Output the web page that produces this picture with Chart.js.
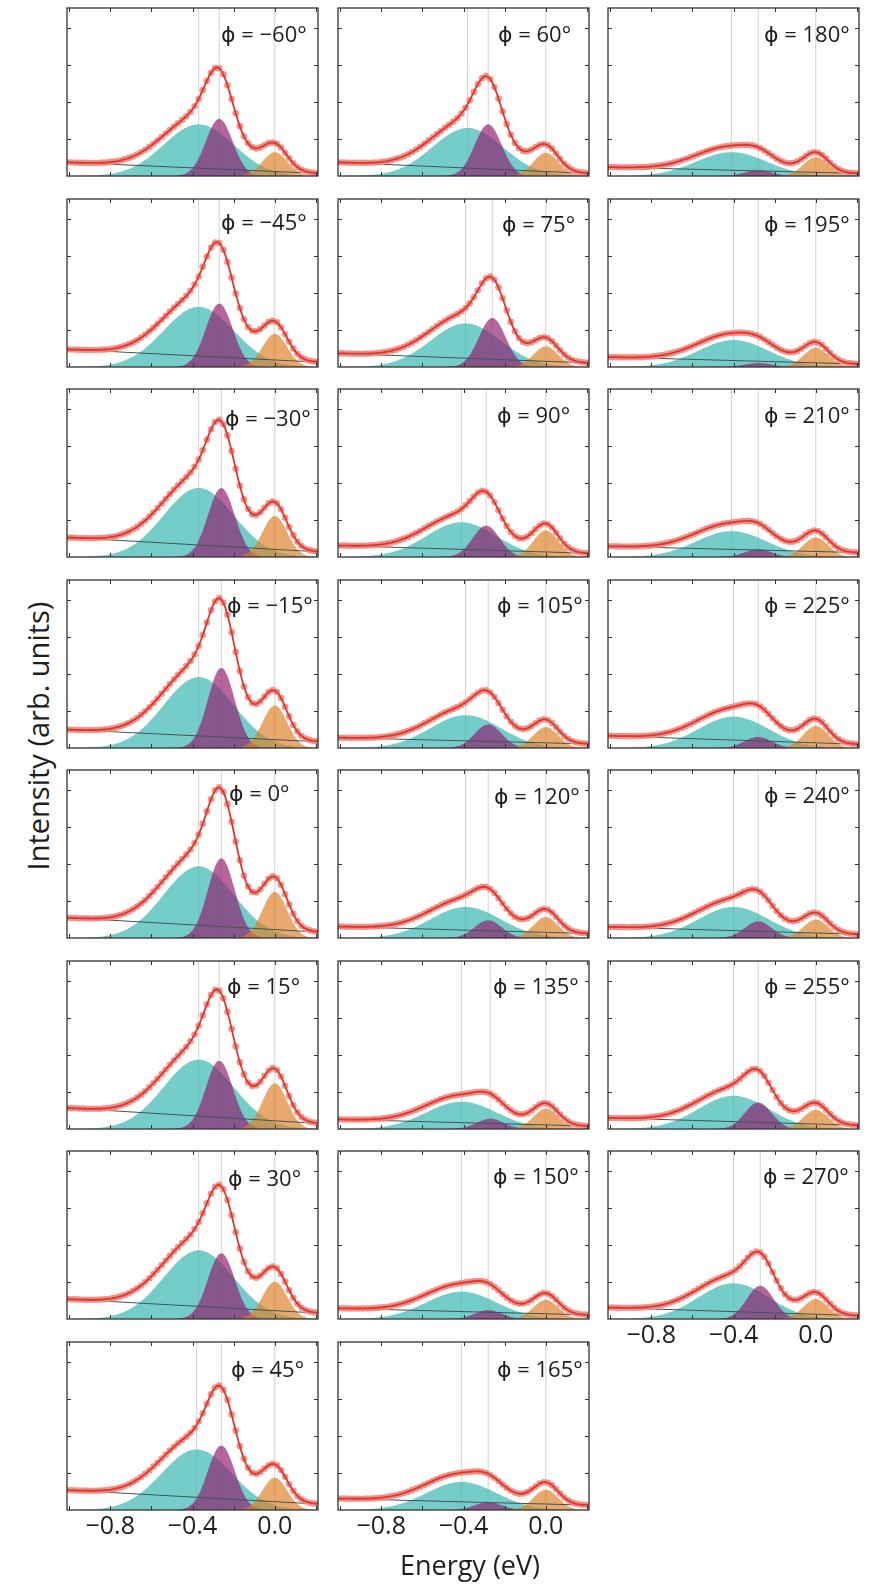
<!DOCTYPE html>
<html>
<head>
<meta charset="utf-8">
<script src="https://cdn.jsdelivr.net/npm/chart.js@4.4.0/dist/chart.umd.min.js"></script>
<style>
html,body{margin:0;padding:0;background:#fff;}
#page{position:relative;width:873px;height:1588px;overflow:hidden;background:#fff;font-family:'Open Sans','DejaVu Sans',sans-serif;color:#1e1e1e;}
.panel{position:absolute;}
.phi{position:absolute;font-size:22px;line-height:22px;white-space:nowrap;font-family:'Open Sans','DejaVu Sans',sans-serif;}
#ylab{position:absolute;left:37px;top:736px;font-size:29px;line-height:29px;white-space:nowrap;transform:translate(-50%,-50%) rotate(-90deg);}
#xlab{position:absolute;left:470px;top:1564px;font-size:27px;line-height:27px;white-space:nowrap;transform:translate(-50%,-50%);}
</style>
</head>
<body>
<div id="page"></div>
<script>
// ---------------- data ----------------
const phiLabels   = ['−60','−45','−30','−15','0','15','30','45',
                     '60','75','90','105','120','135','150','165',
                     '180','195','210','225','240','255','270'];
// component amplitudes (arb. units)
const cyanAmp     = [1.40,1.63,1.87,1.92,1.94,1.88,1.86,1.64,
                     1.30,1.18,0.94,0.89,0.84,0.74,0.74,0.76,
                     0.645,0.73,0.70,0.85,0.84,0.90,0.97];
const purpleAmp   = [1.55,1.72,1.87,2.17,2.16,1.85,1.78,1.75,
                     1.40,1.33,0.85,0.64,0.48,0.28,0.24,0.21,
                     0.16,0.11,0.21,0.30,0.45,0.72,0.90];
const orangeAmp   = [0.645,0.90,1.11,1.15,1.25,1.24,1.01,0.88,
                     0.63,0.56,0.72,0.57,0.57,0.55,0.52,0.55,
                     0.51,0.52,0.53,0.60,0.50,0.52,0.54];
// linear background at left / right end of the energy window
const bgLeft      = [0.37,0.48,0.53,0.50,0.55,0.57,0.54,0.54,
                     0.37,0.37,0.31,0.28,0.31,0.26,0.29,0.31,
                     0.24,0.27,0.29,0.33,0.30,0.30,0.31];
const bgRight     = [0.07,0.13,0.14,0.17,0.16,0.15,0.16,0.16,
                     0.07,0.11,0.10,0.11,0.12,0.08,0.11,0.13,
                     0.07,0.08,0.12,0.10,0.10,0.10,0.09];
// component centres (eV)
const cyanCenter  = [-0.37,-0.37,-0.37,-0.37,-0.37,-0.37,-0.37,-0.38,
                     -0.38,-0.39,-0.41,-0.39,-0.39,-0.41,-0.41,-0.41,
                     -0.41,-0.40,-0.41,-0.40,-0.40,-0.40,-0.40];
const purpleCenter= [-0.27,-0.27,-0.26,-0.26,-0.26,-0.27,-0.26,-0.26,
                     -0.28,-0.26,-0.29,-0.28,-0.28,-0.27,-0.28,-0.28,
                     -0.28,-0.28,-0.28,-0.28,-0.28,-0.28,-0.27];
const orangeCenter= 0.0;
// normalised line shapes, sampled every 0.01 eV away from the centre
const cyanShape   = [1,0.9983,0.9931,0.9846,0.9727,0.9577,0.9396,0.9187,0.8952,0.8692,0.8411,0.8111,0.7795,0.7465,0.7124,0.6776,0.6422,0.6065,0.5709,0.5355,0.5006,0.4663,0.4329,0.4004,0.3691,0.3391,0.3105,0.2833,0.2576,0.2334,0.2107,0.1896,0.1701,0.1520,0.1353,0.1201,0.1062,0.0936,0.0822,0.0720,0.0628,0.0546,0.0473,0.0408,0.0351,0.0301,0.0257,0.0219,0.0186,0.0157,0.0132,0.0111,0.0093,0.0078,0.0064,0.0053,0.0044,0.0036,0.0030,0.0024,0.0020];
const purpleShape = [1,0.9882,0.9538,0.8990,0.8275,0.7439,0.6531,0.5600,0.4689,0.3834,0.3062,0.2389,0.1819,0.1353,0.0983,0.0698,0.0483,0.0327,0.0216,0.0139,0.0088,0.0054,0.0033,0.0019,0.0011];
const orangeShape = [1,0.9862,0.9460,0.8825,0.8007,0.7066,0.6065,0.5063,0.4111,0.3247,0.2494,0.1863,0.1353,0.0956,0.0657,0.0439,0.0286,0.0181,0.0111,0.0066,0.0039,0.0022,0.0012];
// axes
const xMin = -1.01, xMax = 0.21, yMin = 0, yMax = 4.55;
const xTickValues = [-0.8, -0.4, 0.0];
const xTickLabels = ['−0.8', '−0.4', '0.0'];
const xMinorTicks = [-1.0, -0.8, -0.6, -0.4, -0.2, 0.0, 0.2];
const yMinorTicks = [1, 2, 3, 4];
const energy = Array.from({length: 123}, (_, i) => (i - 101) / 100);

// ---------------- layout ----------------
const COL_LEFT = [67, 338, 608];
const ROW_TOP0 = 8, ROW_PITCH = 190.5, PW = 251, PH = 168;
const PAD = {l: 6, r: 6, t: 6, b: 36};
const labelDx = [154,154,158,160,162,160,161,164, 160,164,159,159,156,155,155,159, 156,156,156,156,156,156,155];
const labelDy = [26,23,29,24.5,23,25,26.7,27, 26,24.5,26,24.5,26,25,25,27, 26,24.5,26,25,25,25,25];
const bottomPanels = [7, 15, 22];

const COLORS = {
  cyan: 'rgba(64,186,180,0.72)',
  purple: 'rgba(145,30,110,0.68)',
  orange: 'rgba(222,128,40,0.68)',
  bg: '#3f5656',
  fit: '#e0352b',
  dots: 'rgba(238,135,128,0.9)',
  marker: '#d2d2d2',
  frame: '#333333'
};

const framePlugin = {
  id: 'frame',
  afterDatasetsDraw(chart) {
    const {ctx, chartArea: a, scales: {x, y}} = chart;
    ctx.save();
    ctx.strokeStyle = COLORS.frame;
    ctx.lineWidth = 1.3;
    ctx.strokeRect(a.left, a.top, a.right - a.left, a.bottom - a.top);
    ctx.lineWidth = 1;
    ctx.beginPath();
    xMinorTicks.forEach(v => {
      const px = Math.round(x.getPixelForValue(v)) + 0.5;
      ctx.moveTo(px, a.top); ctx.lineTo(px, a.top + 4);
      ctx.moveTo(px, a.bottom); ctx.lineTo(px, a.bottom - 4);
    });
    yMinorTicks.forEach(v => {
      const py = Math.round(y.getPixelForValue(v)) + 0.5;
      ctx.moveTo(a.left, py); ctx.lineTo(a.left + 4, py);
      ctx.moveTo(a.right, py); ctx.lineTo(a.right - 4, py);
    });
    ctx.stroke();
    ctx.restore();
  }
};

function component(amp, center, shape) {
  return energy.map(x => {
    const k = Math.round(Math.abs(x - center) * 100);
    return {x: x, y: k < shape.length ? amp * shape[k] : 0};
  });
}

const page = document.getElementById('page');

phiLabels.forEach((phi, p) => {
  const col = Math.floor(p / 8), row = p % 8;
  const left = COL_LEFT[col];
  const top = Math.round(ROW_TOP0 + row * ROW_PITCH);
  const isBottom = bottomPanels.includes(p);

  const wrap = document.createElement('div');
  wrap.className = 'panel';
  wrap.style.left = (left - PAD.l) + 'px';
  wrap.style.top = (top - PAD.t) + 'px';
  const cv = document.createElement('canvas');
  cv.width = PW + PAD.l + PAD.r;
  cv.height = PH + PAD.t + PAD.b;
  cv.style.width = cv.width + 'px';
  cv.style.height = cv.height + 'px';
  wrap.appendChild(cv);
  page.appendChild(wrap);

  const cyan = component(cyanAmp[p], cyanCenter[p], cyanShape);
  const purple = component(purpleAmp[p], purpleCenter[p], purpleShape);
  const orange = component(orangeAmp[p], orangeCenter, orangeShape);
  const bgAt = x => bgLeft[p] + (bgRight[p] - bgLeft[p]) * (x - xMin) / (xMax - xMin);
  const fit = energy.map((x, i) => ({x: x, y: bgAt(x) + cyan[i].y + purple[i].y + orange[i].y}));
  const dots = fit.filter((_, i) => i % 2 === 0);

  const marker = c => ({
    data: [{x: c, y: yMin}, {x: c, y: yMax}],
    borderColor: COLORS.marker, borderWidth: 1, pointRadius: 0, fill: false, order: 20
  });
  const area = (d, color, ord) => ({
    data: d, borderWidth: 0, borderColor: 'rgba(0,0,0,0)', backgroundColor: color,
    fill: 'origin', pointRadius: 0, tension: 0, order: ord
  });

  new Chart(cv, {
    type: 'line',
    data: {
      datasets: [
        marker(cyanCenter[p]), marker(purpleCenter[p]), marker(orangeCenter),
        area(cyan, COLORS.cyan, 15),
        area(purple, COLORS.purple, 14),
        area(orange, COLORS.orange, 13),
        {data: [{x: xMin, y: bgLeft[p]}, {x: xMax, y: bgRight[p]}], borderColor: COLORS.bg,
         borderWidth: 1, pointRadius: 0, fill: false, order: 12},
        {data: dots, showLine: false, pointRadius: 3.3, pointBorderWidth: 0,
         pointBackgroundColor: COLORS.dots, borderColor: 'rgba(0,0,0,0)', fill: false, order: 11},
        {data: fit, borderColor: COLORS.fit, borderWidth: 1.8, pointRadius: 0, fill: false,
         tension: 0, order: 10}
      ]
    },
    options: {
      responsive: false, animation: false, events: [],
      parsing: false, normalized: true,
      layout: {padding: {left: PAD.l, right: PAD.r, top: PAD.t, bottom: 0}},
      plugins: {legend: {display: false}, tooltip: {enabled: false}},
      scales: {
        x: {
          type: 'linear', min: xMin, max: xMax, position: 'bottom',
          grid: {display: false, drawTicks: false}, border: {display: false},
          afterBuildTicks: s => { s.ticks = xTickValues.map(v => ({value: v})); },
          afterFit: s => { s.height = PAD.b; },
          ticks: {
            display: isBottom, autoSkip: false, maxRotation: 0, minRotation: 0, padding: 2,
            color: '#1e1e1e', font: {family: "'Open Sans'", size: 25},
            callback: (v, i) => xTickLabels[i]
          }
        },
        y: {type: 'linear', min: yMin, max: yMax, display: false}
      }
    },
    plugins: [framePlugin]
  });

  const lab = document.createElement('div');
  lab.className = 'phi';
  lab.textContent = 'ϕ = ' + phi + '°';
  lab.style.left = (left + labelDx[p]) + 'px';
  lab.style.top = (top + labelDy[p] - 11.7) + 'px';
  page.appendChild(lab);
});

const yl = document.createElement('div');
yl.id = 'ylab'; yl.textContent = 'Intensity (arb. units)';
page.appendChild(yl);
const xl = document.createElement('div');
xl.id = 'xlab'; xl.textContent = 'Energy (eV)';
page.appendChild(xl);
</script>
</body>
</html>
